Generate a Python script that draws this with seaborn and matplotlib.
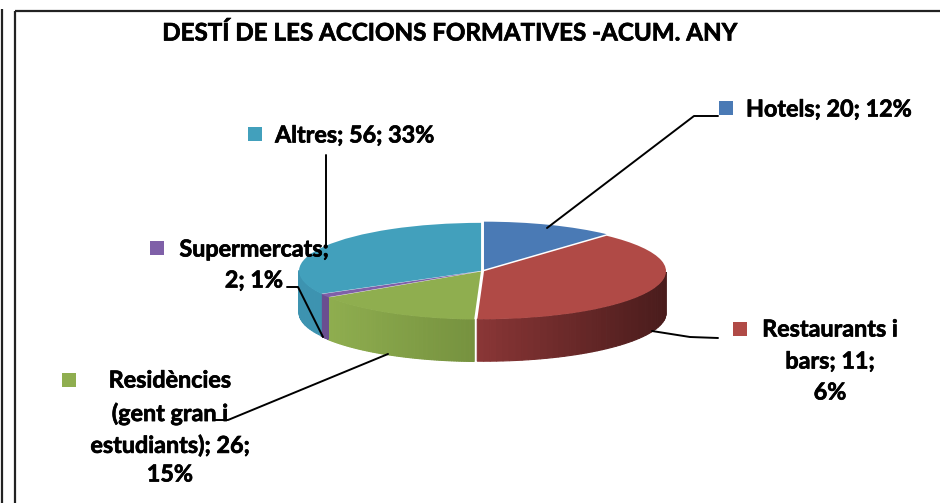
import numpy as np
import matplotlib
matplotlib.use("Agg")
import matplotlib.pyplot as plt
import matplotlib.patheffects as pe
import seaborn as sns

TITLE = "DESTÍ DE LES ACCIONS FORMATIVES -ACUM. ANY"
categories = ["Hotels", "Restaurants i bars", "Residències", "Supermercats", "Altres"]
drawn_values = [20, 66, 26, 2, 56]
explode = [0.03, 0.012, 0.012, 0.006, 0.006]
top_colors = ["#4a7ab5", "#b04a46", "#8fae4f", "#7f60a8", "#42a0bc"]
side_left = ["#36598a", "#8a3636", "#8fae4f", "#6a4e90", "#3d93b0"]
side_right = ["#36598a", "#4a1c1c", "#76923f", "#6a4e90", "#3d93b0"]

sns.set_theme(style="white")
plt.rcParams["font.family"] = ["Lato", "DejaVu Sans"]
fig = plt.figure(figsize=(9.4, 5.03), dpi=100)

CX, CY, RX, RY, DEPTH = 482, 271, 182, 48, 42
pie_ax = fig.add_axes([0, 0, 1, 1])
wedges, _ = pie_ax.pie(drawn_values, colors=sns.color_palette(top_colors), startangle=90,
                       counterclock=False, explode=explode, radius=1,
                       wedgeprops=dict(linewidth=0, zorder=3))
pie_ax.set_aspect("auto")
pie_ax.set_xlim(-CX / RX, (940 - CX) / RX)
pie_ax.set_ylim((CY - 503) / RY, CY / RY)
pie_ax.axis("off")

depth = DEPTH / RY
to_rgb = matplotlib.colors.to_rgb
for w, cl, cr in zip(wedges, side_left, side_right):
    th = np.radians(np.linspace(w.theta1, w.theta2, 70))
    cx, cy = w.center
    xs = cx + np.cos(th)
    ys = cy + np.sin(th)
    xmin, xmax = xs.min(), xs.max()
    for i in range(len(th) - 1):
        if np.sin((th[i] + th[i + 1]) / 2) > 0.0:
            continue
        f = ((xs[i] + xs[i + 1]) / 2 - xmin) / max(xmax - xmin, 1e-6)
        col = tuple((1 - f) * a + f * b for a, b in zip(to_rgb(cl), to_rgb(cr)))
        pie_ax.fill([xs[i], xs[i + 1], xs[i + 1], xs[i]],
                    [ys[i], ys[i + 1], ys[i + 1] - depth, ys[i] - depth],
                    facecolor=col, edgecolor=col, linewidth=0.8, zorder=2)

ov = fig.add_axes([0, 0, 1, 1], facecolor="none")
ov.set_xlim(0, 940)
ov.set_ylim(503, 0)
ov.axis("off")

# frame
for xs_, ys_ in [([2, 2], [9, 503]), ([15, 15], [503, 11]), ([15, 940], [11, 11])]:
    ov.plot(xs_, ys_, color="#222222", lw=1.6, solid_capstyle="butt", zorder=1)

bold = [pe.withStroke(linewidth=0.5, foreground="black")]
ov.text(450, 33, TITLE, ha="center", va="center", fontsize=17.4, fontweight="bold",
        color="black", path_effects=bold)

FS = 16.8
labels = [
    (["Hotels; 20; 12%"], "left", 746, [110], (726, 108), "#4a7ab5",
     [(547, 228), (694, 116), (718, 116)]),
    (["Restaurants i", "bars; 11;", "6%"], "center", 830, [330, 362, 393], (740, 329), "#b04a46",
     [(652, 331), (690, 337), (718, 338)]),
    (["Residències", "(gent gran i", "estudiants); 26;", "15%"], "center", 170, [381, 414, 446, 475],
     (69, 380), "#8fae4f", [(388, 354), (228, 420), (215, 420)]),
    (["Supermercats;", "2; 1%"], "center", 254, [250, 281], (157, 248), "#7f60a8",
     [(323, 337), (298, 287), (287, 287)]),
    (["Altres; 56; 33%"], "left", 275, [136], (255, 134), "#42a0bc",
     [(326, 245), (326, 155)]),
]
for lines, ha, x, ys_, (mx, my), mc, leader in labels:
    ov.plot([p[0] for p in leader], [p[1] for p in leader], color="black", lw=1.4, zorder=6)
    ov.scatter([mx], [my], marker="s", s=115, color=mc, linewidths=0, zorder=6)
    for line, y in zip(lines, ys_):
        ov.text(x, y, line, ha=ha, va="center", fontsize=FS, fontweight="bold", color="black",
                zorder=7, path_effects=bold)

fig.savefig("out.png", dpi=100)
